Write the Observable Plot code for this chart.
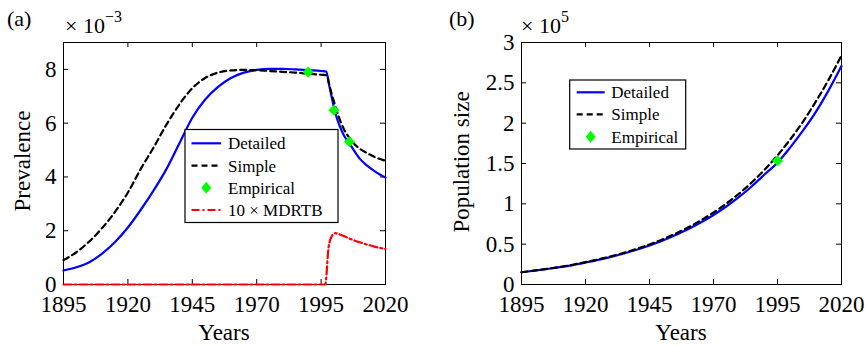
<!DOCTYPE html>
<html><head><meta charset="utf-8">
<script src="https://cdn.jsdelivr.net/npm/d3@7"></script>
<script src="https://cdn.jsdelivr.net/npm/@observablehq/plot@0.6"></script>
<style>
body{margin:0;background:#fff;}
#wrap{display:flex;width:868px;height:346px;overflow:hidden;}
svg text{font-family:"Liberation Serif","Times New Roman",serif;}
</style></head><body><div id="wrap"></div>
<script>
// ---------- shared ----------
const xTicks = [1895, 1920, 1945, 1970, 1995, 2020];
const xDomain = [1895, 2020];

// ---------- panel (a): prevalence (x 10^-3) ----------
const yTicksA = [0, 2, 4, 6, 8];
const detailedYearsA = [1895,1900,1905,1910,1915,1920,1925,1930,1935,1940,1945,1950,1955,1960,1965,1970,1975,1980,1985,1990,1995,1997,1998,1999,2000,2001,2002,2003,2004,2006,2008,2010,2013,2016,2020];
const detailedA = [0.52,0.64,0.83,1.15,1.58,2.12,2.78,3.5,4.3,5.25,6.2,6.88,7.35,7.68,7.88,7.98,8.02,8.02,8.0,7.97,7.94,7.92,7.47,7.02,6.58,6.22,5.95,5.72,5.52,5.25,4.95,4.68,4.41,4.2,3.98];
const simpleYearsA = [1895,1900,1905,1910,1915,1920,1925,1930,1935,1940,1945,1950,1955,1960,1965,1970,1975,1980,1985,1990,1995,1997.3,1998,1999,2000,2001,2002,2003,2004,2006,2008,2010,2013,2016,2020];
const simpleA = [0.91,1.2,1.6,2.1,2.7,3.42,4.3,5.1,5.95,6.7,7.3,7.68,7.88,7.96,7.98,7.97,7.94,7.91,7.88,7.84,7.8,7.78,7.5,7.12,6.8,6.48,6.2,5.95,5.75,5.45,5.22,5.05,4.88,4.73,4.6];
const mdrYearsA = [1895,1996.6,1997.9,1999.2,2000.5,2003,2006.5,2010,2013,2016,2020];
const mdrA = [0,0,1.38,1.81,1.91,1.83,1.69,1.57,1.48,1.40,1.32];
const empYearsA = [1990, 2000, 2006];
const empA = [7.9, 6.48, 5.31];

// ---------- panel (b): population size (x 10^5) ----------
const yTicksB = [0, 0.5, 1, 1.5, 2, 2.5, 3];
const yearsB = [1895,1900,1905,1910,1915,1920,1925,1930,1935,1940,1945,1950,1955,1960,1965,1970,1975,1980,1985,1990,1995,2000,2005,2010,2015,2020];
const detailedB = [0.152,0.171,0.192,0.215,0.241,0.272,0.305,0.342,0.384,0.431,0.484,0.543,0.610,0.684,0.768,0.862,0.967,1.085,1.218,1.367,1.51,1.70,1.91,2.14,2.41,2.71];
const simpleB = [0.152,0.172,0.194,0.218,0.245,0.277,0.311,0.35,0.393,0.442,0.497,0.558,0.628,0.706,0.794,0.892,1.003,1.127,1.267,1.424,1.60,1.80,2.02,2.27,2.54,2.84];
const empYearsB = [1995];
const empB = [1.535];

const BLUE = "#0000ff", GREEN = "#00ff00", RED = "#ff0000";
const LW = 2.2;
const DASH = "6,4";
const DASHDOT = "8,3,2,3";

const zip = (xs, ys) => xs.map((x, i) => ({x, y: ys[i]}));

function panel({width, height, mL, mR, mT, mB, yDomain, yTicks, series, emp}) {
  const pw = width - mL - mR, ph = height - mT - mB;
  const tkY = 5 / ph * (yDomain[1] - yDomain[0]);
  const tkX = 5 / pw * (xDomain[1] - xDomain[0]);
  return Plot.plot({
    width, height,
    marginLeft: mL, marginRight: mR, marginTop: mT, marginBottom: mB,
    style: {fontFamily: "Liberation Serif", fontSize: "23px", background: "white", color: "black", overflow: "visible"},
    x: {domain: xDomain},
    y: {domain: yDomain},
    marks: [
      Plot.frame({stroke: "black", strokeWidth: 1}),
      Plot.ruleX(xTicks, {x: d => d, y1: yDomain[0], y2: yDomain[0] + tkY, stroke: "black"}),
      Plot.ruleX(xTicks, {x: d => d, y1: yDomain[1], y2: yDomain[1] - tkY, stroke: "black"}),
      Plot.ruleY(yTicks, {y: d => d, x1: xDomain[0], x2: xDomain[0] + tkX, stroke: "black"}),
      Plot.ruleY(yTicks, {y: d => d, x1: xDomain[1], x2: xDomain[1] - tkX, stroke: "black"}),
      ...series,
      Plot.dot(emp, {x: "x", y: "y", symbol: "diamond2", r: 5, fill: GREEN, stroke: "none"}),
      Plot.axisX(xTicks, {tickSize: 0, tickPadding: 11, label: null, tickFormat: d => String(d)}),
      Plot.axisY(yTicks, {tickSize: 0, tickPadding: 7, label: null, tickFormat: d => String(d)})
    ]
  });
}

function addText(svg, {x, y, text, size = 23, anchor = "start", rotate = 0}) {
  return d3.select(svg).append("text")
    .attr("font-size", size).attr("text-anchor", anchor).attr("fill", "black")
    .attr("transform", `translate(${x},${y}) rotate(${rotate})`)
    .text(text);
}

function addMultiplier(svg, x, y, exp) {
  const t = d3.select(svg).append("text")
    .attr("x", x).attr("y", y).attr("font-size", 22).attr("fill", "black")
    .attr("text-anchor", "start");
  t.append("tspan").text("\u00d7 10");
  t.append("tspan").attr("dy", -11).attr("font-size", 16).text(exp);
}

function addLegend(svg, box, items) {
  const g = d3.select(svg).append("g").attr("text-anchor", "start");
  g.append("rect").attr("x", box.x).attr("y", box.y).attr("width", box.w).attr("height", box.h)
    .attr("fill", "white").attr("stroke", "black").attr("stroke-width", 1.2);
  items.forEach((it, i) => {
    const cy = box.rows[i];
    if (it.kind === "line") {
      g.append("line").attr("x1", box.sx1).attr("x2", box.sx2).attr("y1", cy).attr("y2", cy)
        .attr("stroke", it.color).attr("stroke-width", LW).attr("stroke-dasharray", it.dash || null);
    } else {
      const cx = (box.sx1 + box.sx2) / 2;
      g.append("path").attr("d", `M${cx},${cy-6}L${cx+5},${cy}L${cx},${cy+6}L${cx-5},${cy}Z`).attr("fill", GREEN);
    }
    g.append("text").attr("x", box.tx).attr("y", cy + 6).attr("font-size", 17)
      .attr("text-anchor", "start").attr("fill", "black").text(it.label);
  });
}

// ----- build panel a -----
const svgA = panel({
  width: 434, height: 346, mL: 63, mR: 49, mT: 42, mB: 62,
  yDomain: [0, 9], yTicks: yTicksA,
  series: [
    Plot.line(zip(detailedYearsA, detailedA), {x: "x", y: "y", stroke: BLUE, strokeWidth: LW, curve: "monotone-x"}),
    Plot.line(zip(simpleYearsA, simpleA), {x: "x", y: "y", stroke: "black", strokeWidth: LW, strokeDasharray: DASH, curve: "monotone-x"}),
    Plot.line(zip(mdrYearsA, mdrA), {x: "x", y: "y", stroke: RED, strokeWidth: LW, strokeDasharray: DASHDOT, curve: "monotone-x"})
  ],
  emp: zip(empYearsA, empA)
});
addText(svgA, {x: 7, y: 26, text: "(a)", size: 22});
addMultiplier(svgA, 65, 33, "\u22123");
addText(svgA, {x: 224, y: 340, text: "Years", anchor: "middle"});
addText(svgA, {x: 30, y: 161, text: "Prevalence", anchor: "middle", rotate: -90});
addLegend(svgA, {x: 185, y: 129.5, w: 153, h: 93, sx1: 191.5, sx2: 221, tx: 228, rows: [143.3, 165.7, 187.7, 210]}, [
  {label: "Detailed", kind: "line", color: BLUE},
  {label: "Simple", kind: "line", color: "black", dash: DASH},
  {label: "Empirical", kind: "dot"},
  {label: "10 \u00d7 MDRTB", kind: "line", color: RED, dash: DASHDOT}
]);

// ----- build panel b -----
const svgB = panel({
  width: 434, height: 346, mL: 87, mR: 27, mT: 42, mB: 62,
  yDomain: [0, 3], yTicks: yTicksB,
  series: [
    Plot.line(zip(yearsB, detailedB), {x: "x", y: "y", stroke: BLUE, strokeWidth: LW, curve: "monotone-x"}),
    Plot.line(zip(yearsB, simpleB), {x: "x", y: "y", stroke: "black", strokeWidth: LW, strokeDasharray: DASH, curve: "monotone-x"})
  ],
  emp: zip(empYearsB, empB)
});
addText(svgB, {x: 15, y: 26, text: "(b)", size: 22});
addMultiplier(svgB, 87, 33, "5");
addText(svgB, {x: 247, y: 340, text: "Years", anchor: "middle"});
addText(svgB, {x: 35, y: 162, text: "Population size", anchor: "middle", rotate: -90});
addLegend(svgB, {x: 135.7, y: 80, w: 116, h: 69, sx1: 142.7, sx2: 170.7, tx: 177.3, rows: [92.3, 114.3, 136.7]}, [
  {label: "Detailed", kind: "line", color: BLUE},
  {label: "Simple", kind: "line", color: "black", dash: DASH},
  {label: "Empirical", kind: "dot"}
]);

document.getElementById("wrap").append(svgA, svgB);
</script>
</body></html>
